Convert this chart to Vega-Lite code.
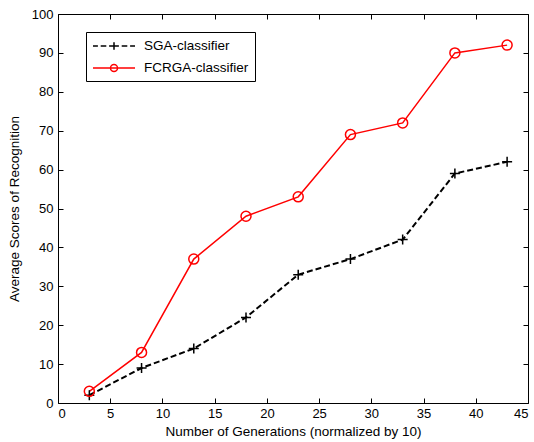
{
  "$schema": "https://vega.github.io/schema/vega-lite/v6.json",
  "width": 470,
  "height": 389,
  "autosize": "none",
  "padding": {"left": 58, "top": 14, "right": 6, "bottom": 39},
  "background": "white",
  "config": {
    "font": "Liberation Sans",
    "view": {"stroke": "black", "strokeWidth": 1},
    "axis": {
      "domain": false,
      "grid": false,
      "ticks": true,
      "tickColor": "black",
      "tickSize": 5,
      "offset": -5,
      "tickWidth": 1,
      "zindex": 1,
      "labelColor": "black",
      "labelFont": "Liberation Sans",
      "labelFontSize": 13,
      "labelPadding": 4,
      "titleFont": "Liberation Sans",
      "titleFontSize": 13.5,
      "titleFontWeight": "normal",
      "titleColor": "black"
    },
    "legend": {
      "orient": "none",
      "legendX": 28,
      "legendY": 18,
      "strokeColor": "black",
      "fillColor": "white",
      "padding": 6,
      "cornerRadius": 0,
      "symbolSize": 196,
      "symbolStrokeWidth": 1.5,
      "labelOffset": 36,
      "rowPadding": 7,
      "labelFont": "Liberation Sans",
      "labelFontSize": 13.5,
      "labelColor": "black"
    }
  },
  "data": {
    "values": [
      {"gen": 3, "score": 2, "series": "SGA-classifier"},
      {"gen": 8, "score": 9, "series": "SGA-classifier"},
      {"gen": 13, "score": 14, "series": "SGA-classifier"},
      {"gen": 18, "score": 22, "series": "SGA-classifier"},
      {"gen": 23, "score": 33, "series": "SGA-classifier"},
      {"gen": 28, "score": 37, "series": "SGA-classifier"},
      {"gen": 33, "score": 42, "series": "SGA-classifier"},
      {"gen": 38, "score": 59, "series": "SGA-classifier"},
      {"gen": 43, "score": 62, "series": "SGA-classifier"},
      {"gen": 3, "score": 3, "series": "FCRGA-classifier"},
      {"gen": 8, "score": 13, "series": "FCRGA-classifier"},
      {"gen": 13, "score": 37, "series": "FCRGA-classifier"},
      {"gen": 18, "score": 48, "series": "FCRGA-classifier"},
      {"gen": 23, "score": 53, "series": "FCRGA-classifier"},
      {"gen": 28, "score": 69, "series": "FCRGA-classifier"},
      {"gen": 33, "score": 72, "series": "FCRGA-classifier"},
      {"gen": 38, "score": 90, "series": "FCRGA-classifier"},
      {"gen": 43, "score": 92, "series": "FCRGA-classifier"}
    ]
  },
  "resolve": {"axis": {"x": "independent", "y": "independent"}},
  "layer": [
    {
      "transform": [{"filter": "datum.series === 'SGA-classifier'"}],
      "mark": {"type": "line", "color": "black", "strokeWidth": 2, "strokeDash": [6, 3]},
      "encoding": {
        "x": {"field": "gen", "type": "quantitative", "scale": {"domain": [0, 45], "nice": false},
          "axis": {"orient": "bottom", "values": [0, 5, 10, 15, 20, 25, 30, 35, 40, 45], "title": "Number of Generations (normalized by 10)", "titlePadding": 4}},
        "y": {"field": "score", "type": "quantitative", "scale": {"domain": [0, 100], "nice": false},
          "axis": {"orient": "left", "values": [0, 10, 20, 30, 40, 50, 60, 70, 80, 90, 100], "title": "Average Scores of Recognition", "titlePadding": 10, "labelPadding": 5}}
      }
    },
    {
      "transform": [{"filter": "datum.series === 'FCRGA-classifier'"}],
      "mark": {"type": "line", "color": "#ff0000", "strokeWidth": 1.5},
      "encoding": {
        "x": {"field": "gen", "type": "quantitative", "axis": null},
        "y": {"field": "score", "type": "quantitative", "axis": null}
      }
    },
    {
      "transform": [{"filter": "datum.series === 'SGA-classifier'"}],
      "mark": {"type": "point", "shape": "M-1,0H1M0,-1V1", "size": 100, "stroke": "black", "strokeWidth": 1.5, "filled": false, "opacity": 1},
      "encoding": {
        "x": {"field": "gen", "type": "quantitative", "axis": null},
        "y": {"field": "score", "type": "quantitative", "axis": null}
      }
    },
    {
      "transform": [{"filter": "datum.series === 'FCRGA-classifier'"}],
      "mark": {"type": "point", "shape": "circle", "size": 100, "stroke": "#ff0000", "strokeWidth": 1.5, "filled": false, "opacity": 1},
      "encoding": {
        "x": {"field": "gen", "type": "quantitative", "axis": null},
        "y": {"field": "score", "type": "quantitative", "axis": null}
      }
    },
    {
      "mark": {"type": "point", "opacity": 0},
      "encoding": {
        "x": {"field": "gen", "type": "quantitative",
          "axis": {"orient": "top", "values": [0, 5, 10, 15, 20, 25, 30, 35, 40, 45], "labels": false, "title": null}},
        "y": {"field": "score", "type": "quantitative",
          "axis": {"orient": "right", "values": [0, 10, 20, 30, 40, 50, 60, 70, 80, 90, 100], "labels": false, "title": null}}
      }
    },
    {
      "transform": [{"filter": "datum.gen < 0"}],
      "mark": {"type": "point", "filled": false, "size": 196, "strokeWidth": 1.5, "opacity": 1},
      "encoding": {
        "shape": {"field": "series", "type": "nominal",
          "scale": {"domain": ["SGA-classifier", "FCRGA-classifier"],
            "range": ["M-1,0H-0.3M0.1,0H0.9M1.3,0H2.7M3.1,0H3.9M4.3,0H5M2,-0.55V0.55", "M-1,0H5M2.5,0A0.5,0.5 0 1,1 1.5,0A0.5,0.5 0 1,1 2.5,0"]},
          "legend": {"title": null}},
        "color": {"field": "series", "type": "nominal",
          "scale": {"domain": ["SGA-classifier", "FCRGA-classifier"], "range": ["black", "#ff0000"]},
          "legend": {"title": null}}
      }
    }
  ]
}
